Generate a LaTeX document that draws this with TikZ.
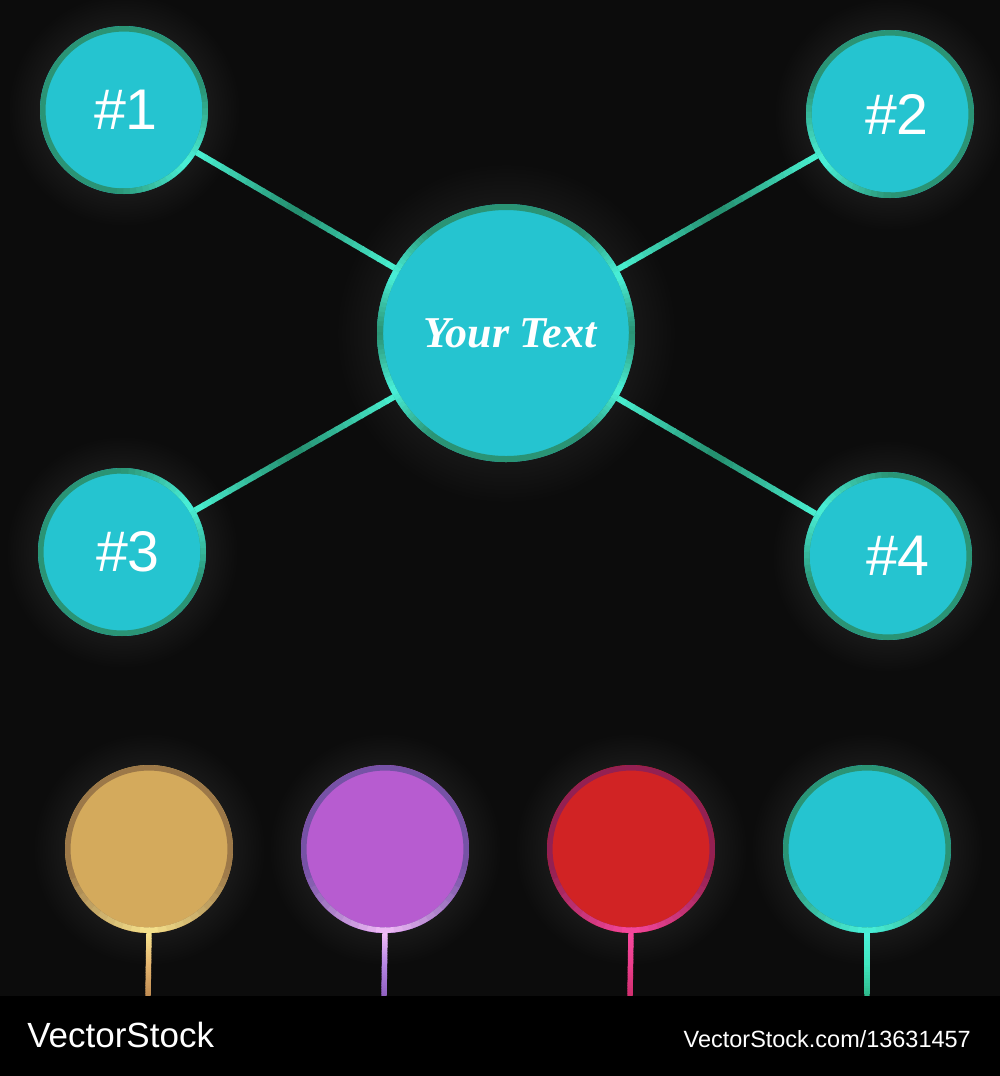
\documentclass[tikz,border=0pt]{standalone}
\usepackage{fontspec}
\setmainfont{Liberation Sans}
\newfontfamily\scriptf{Liberation Serif}
\usetikzlibrary{calc}
\definecolor{bgc}{HTML}{0C0C0C}
\definecolor{glowc}{HTML}{1A1A1A}
\definecolor{cyanf}{HTML}{25C4D0}
\definecolor{tealdk}{HTML}{2A9475}
\definecolor{teallt}{HTML}{4AF2DA}
\definecolor{linedk}{HTML}{238C6C}
\definecolor{linelt}{HTML}{4AF2D2}
\definecolor{goldf}{HTML}{D4AA5C}
\definecolor{golddk}{HTML}{9C7848}
\definecolor{goldlt}{HTML}{F8E48E}
\definecolor{goldmd}{HTML}{E6B670}
\definecolor{goldst}{HTML}{C08C52}
\definecolor{purf}{HTML}{B75CD0}
\definecolor{purdk}{HTML}{7652A6}
\definecolor{purlt}{HTML}{F2BCF8}
\definecolor{purmd}{HTML}{B886E6}
\definecolor{purst}{HTML}{9060C0}
\definecolor{redf}{HTML}{D12324}
\definecolor{reddk}{HTML}{942052}
\definecolor{redlt}{HTML}{F8489E}
\definecolor{redmd}{HTML}{EC3E8C}
\definecolor{redst}{HTML}{D02E6E}
\definecolor{cymd}{HTML}{40E8C0}
\definecolor{cyst}{HTML}{2EB88A}
\pgfdeclareradialshading{glow}{\pgfpoint{0bp}{0bp}}{color(0bp)=(glowc); color(17bp)=(glowc); color(25bp)=(bgc); color(50bp)=(bgc)}
\pgfdeclarelayer{back}
\pgfsetlayers{back,main}
% gradient straight connector: from, to, colA, colB, colC, width
\newcommand\gradline[6]{%
  \foreach \i in {0,...,23}{%
    \pgfmathsetmacro\ta{\i/24}%
    \pgfmathsetmacro\tb{min(1,(\i+1.2)/24)}%
    \pgfmathsetmacro\tm{(\i+0.5)/24}%
    \ifdim\tm pt<0.5pt
      \pgfmathtruncatemacro\p{\tm*200}%
      \colorlet{segc}{#4!\p!#3}%
    \else
      \pgfmathtruncatemacro\p{(\tm-0.5)*200}%
      \colorlet{segc}{#5!\p!#4}%
    \fi
    \draw[line width=#6, segc] ($(#1)!\ta!(#2)$) -- ($(#1)!\tb!(#2)$);
  }}
% highlight on a ring: node, radius, visual angle, half width, light, dark, width
\newcommand\hilite[7]{%
  \foreach \k in {-12,...,11}{%
    \pgfmathsetmacro\aa{-(#3) - \k*(#4)/12}%
    \pgfmathsetmacro\ab{-(#3) - (\k+1)*(#4)/12 - 0.6}%
    \pgfmathtruncatemacro\p{100 - abs(\k+0.5)/12*100}%
    \draw[line width=#7, color=#5!\p!#6] (#1.center) ++(\aa:#2) arc[start angle=\aa, end angle=\ab, radius=#2];
  }}
\begin{document}
\begin{tikzpicture}[x=0.75pt,y=-0.75pt,
  bubble/.style={circle, minimum size=126pt, inner sep=0pt, outer sep=0pt, text=white,
    font=\fontsize{43}{43}\selectfont},
  bigbubble/.style={circle, minimum size=193.5pt, inner sep=0pt, outer sep=0pt, text=white,
    font=\scriptf\bfseries\itshape\fontsize{33}{33}\selectfont},
  ring/.style={line width=4.1pt},
  bigring/.style={line width=4.5pt},
  wmark/.style={text=white, inner sep=0pt}]
\useasboundingbox (0,0) rectangle (1000,1076);
% nodes
\node[bubble, fill=cyanf] (n1) at (124,110) {\hspace*{3pt}\#1};
\node[bubble, fill=cyanf] (n2) at (890,114) {\hspace*{10.5pt}\#2};
\node[bubble, fill=cyanf] (n3) at (122,552) {\hspace*{9pt}\#3};
\node[bubble, fill=cyanf] (n4) at (888,556) {\hspace*{15pt}\#4};
\node[bigbubble, fill=cyanf] (cc) at (506,333) {\hspace*{6pt}\raisebox{-4pt}{Your\hspace{8pt}Text}};
\node[bubble, fill=goldf] (b1) at (149,849) {};
\node[bubble, fill=purf] (b2) at (385,849) {};
\node[bubble, fill=redf] (b3) at (631,849) {};
\node[bubble, fill=cyanf] (b4) at (867,849) {};
\coordinate (s1) at (148,996);
\coordinate (s2) at (384,996);
\coordinate (s3) at (630,996);
\coordinate (s4) at (867,996);
% background and glows
\begin{pgfonlayer}{back}
  \fill[bgc] (0,0) rectangle (1000,996);
  \foreach \n in {n1,n2,n3,n4,b1,b2,b3,b4}{\shade[shading=glow] (\n.center) circle (116);}
  \shade[shading=glow] (cc.center) circle (170);
\end{pgfonlayer}
% rings
\foreach \n in {n1,n2,n3,n4}{\draw[ring, tealdk] (\n.center) circle (81.2);}
\draw[bigring, tealdk] (cc.center) circle (126);
\draw[ring, golddk] (b1.center) circle (81.2);
\draw[ring, purdk] (b2.center) circle (81.2);
\draw[ring, reddk] (b3.center) circle (81.2);
\draw[ring, tealdk] (b4.center) circle (81.2);
\hilite{n1}{81.2}{-40}{55}{teallt}{tealdk}{4.1pt}
\hilite{n2}{81.2}{215}{55}{teallt}{tealdk}{4.1pt}
\hilite{n3}{81.2}{35}{55}{teallt}{tealdk}{4.1pt}
\hilite{n4}{81.2}{145}{55}{teallt}{tealdk}{4.1pt}
\hilite{cc}{126}{153}{26}{teallt}{tealdk}{4.5pt}
\hilite{cc}{126}{27}{26}{teallt}{tealdk}{4.5pt}
\hilite{cc}{126}{207}{26}{teallt}{tealdk}{4.5pt}
\hilite{cc}{126}{-27}{26}{teallt}{tealdk}{4.5pt}
\hilite{b1}{81.2}{-90}{75}{goldlt}{golddk}{4.1pt}
\hilite{b2}{81.2}{-90}{75}{purlt}{purdk}{4.1pt}
\hilite{b3}{81.2}{-90}{75}{redlt}{reddk}{4.1pt}
\hilite{b4}{81.2}{-90}{75}{teallt}{tealdk}{4.1pt}
% connectors
\path (n1) -- (cc) coordinate[pos=0] (e1a) coordinate[pos=1] (e1b);
\path (n2) -- (cc) coordinate[pos=0] (e2a) coordinate[pos=1] (e2b);
\path (n3) -- (cc) coordinate[pos=0] (e3a) coordinate[pos=1] (e3b);
\path (n4) -- (cc) coordinate[pos=0] (e4a) coordinate[pos=1] (e4b);
\gradline{e1a}{e1b}{linelt}{linedk}{linelt}{4.5pt}
\gradline{e2a}{e2b}{linelt}{linedk}{linelt}{4.5pt}
\gradline{e3a}{e3b}{linelt}{linedk}{linelt}{4.5pt}
\gradline{e4a}{e4b}{linelt}{linedk}{linelt}{4.5pt}
% stems
\gradline{b1.south}{s1}{goldlt}{goldmd}{goldst}{4.1pt}
\gradline{b2.south}{s2}{purlt}{purmd}{purst}{4.1pt}
\gradline{b3.south}{s3}{redlt}{redmd}{redst}{4.1pt}
\gradline{b4.south}{s4}{teallt}{cymd}{cyst}{4.1pt}
% footer
\fill[black] (0,996) rectangle (1000,1076);
\node[wmark, anchor=base west, font=\fontsize{26.25}{26.25}\selectfont] (wm1) at (27,1047) {VectorStock};
\node[wmark, anchor=base east, font=\fontsize{17.6}{17.6}\selectfont] (wm2) at (971,1047) {VectorStock.com/13631457};
\end{tikzpicture}
\end{document}
